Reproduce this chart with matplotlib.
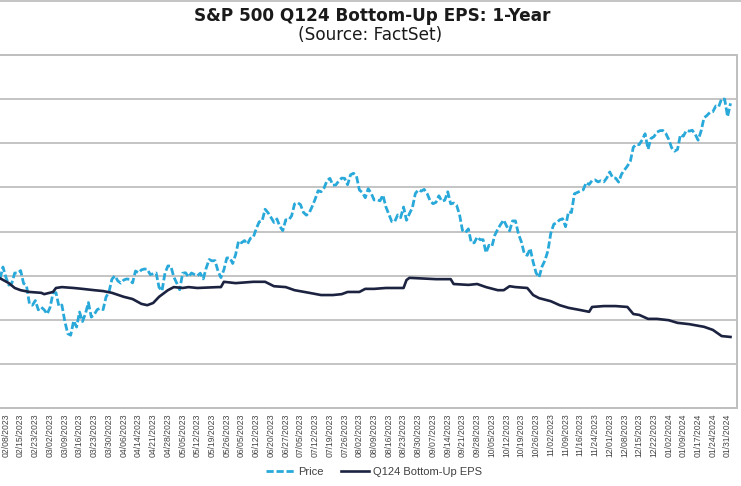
"""
S&P 500 price vs Q124 bottom-up EPS, 1-year view (FactSet style chart)
"""

import numpy as np
import pandas as pd
from matplotlib import pyplot as plt

# Trading calendar 02/06/2023 - 02/01/2024 (NYSE holidays removed)
holidays = ["2023-02-20", "2023-04-07", "2023-05-29", "2023-06-19", "2023-07-04",
            "2023-09-04", "2023-11-23", "2023-12-25", "2024-01-01", "2024-01-15"]
days = pd.bdate_range("2023-02-06", "2024-02-01")
days = days[~days.isin(pd.to_datetime(holidays))]

# S&P 500 daily close (one value per trading day above)
price = [
    # Feb 2023
    4111, 4164, 4118, 4082, 4090, 4137, 4136, 4148, 4090, 4079, 3997, 3991, 4012, 3970, 3982, 3970,
    # Mar
    3951, 3981, 4046, 4048, 3986, 3992, 3918, 3862, 3855, 3920, 3892, 3960, 3917, 3952, 4003, 3937,
    3949, 3971, 3977, 3971, 4028, 4051, 4109,
    # Apr
    4124, 4101, 4091, 4105, 4110, 4108, 4092, 4146, 4138, 4151, 4155, 4154, 4130, 4133, 4137, 4072,
    4056, 4136, 4169,
    # May
    4168, 4119, 4091, 4061, 4136, 4138, 4119, 4137, 4130, 4124, 4136, 4110, 4159, 4198, 4192, 4193,
    4146, 4116, 4151, 4205, 4206, 4180,
    # Jun
    4221, 4282, 4274, 4284, 4268, 4294, 4299, 4338, 4369, 4373, 4426, 4410, 4389, 4366, 4382, 4348,
    4329, 4378, 4377, 4396, 4450,
    # Jul
    4456, 4447, 4412, 4399, 4410, 4439, 4472, 4510, 4505, 4522, 4555, 4566, 4535, 4536, 4554, 4567,
    4566, 4537, 4582, 4589,
    # Aug
    4577, 4513, 4502, 4478, 4519, 4499, 4468, 4469, 4464, 4490, 4437, 4404, 4370, 4370, 4400, 4388,
    4436, 4376, 4406, 4433, 4497, 4514, 4508,
    # Sep
    4516, 4497, 4465, 4451, 4457, 4487, 4462, 4467, 4505, 4450, 4454, 4444, 4402, 4330, 4320, 4337,
    4274, 4274, 4300, 4288,
    # Oct
    4288, 4229, 4263, 4258, 4309, 4336, 4358, 4377, 4349, 4328, 4373, 4373, 4314, 4278, 4224, 4217,
    4248, 4186, 4137, 4117, 4166, 4194,
    # Nov
    4237, 4318, 4358, 4365, 4378, 4383, 4347, 4415, 4411, 4496, 4502, 4508, 4514, 4547, 4538, 4556,
    4559, 4550, 4555, 4550, 4568,
    # Dec
    4595, 4569, 4567, 4549, 4585, 4604, 4622, 4644, 4707, 4720, 4719, 4740, 4768, 4698, 4747, 4755,
    4775, 4782, 4783, 4770,
    # Jan 2024
    4743, 4705, 4689, 4697, 4764, 4757, 4783, 4780, 4784, 4766, 4739, 4780, 4840, 4851, 4865, 4868,
    4894, 4891, 4928, 4925, 4846,
    # Feb
    4906,
]

# Q124 bottom-up EPS, read at selected trading days (day number in the calendar above)
eps_day = [0, 3, 5, 7, 10, 14, 15, 18, 19, 21, 25, 28, 32, 35, 38, 42, 45, 48, 50, 52, 54, 57,
           59, 62, 64, 67, 74, 75, 76, 80, 86, 90, 93, 97, 100, 105, 109, 113, 116, 118, 122,
           124, 127, 131, 137, 138, 139, 148, 153, 154, 159, 162, 165, 169, 171, 173, 175, 179,
           181, 183, 187, 190, 193, 197, 200, 201, 205, 209, 213, 215, 217, 220, 223, 227, 230,
           234, 239, 242, 245, 248]
eps = [54.94, 54.83, 54.72, 54.67, 54.63, 54.61, 54.58, 54.63, 54.72, 54.74, 54.72, 54.70,
       54.67, 54.65, 54.61, 54.52, 54.47, 54.36, 54.33, 54.38, 54.52, 54.67, 54.74, 54.72,
       54.74, 54.72, 54.74, 54.74, 54.86, 54.83, 54.86, 54.86, 54.76, 54.74, 54.67, 54.61,
       54.56, 54.56, 54.58, 54.63, 54.63, 54.70, 54.70, 54.72, 54.72, 54.90, 54.95, 54.92,
       54.92, 54.81, 54.79, 54.81, 54.74, 54.67, 54.67, 54.76, 54.74, 54.72, 54.56, 54.49,
       54.42, 54.33, 54.27, 54.22, 54.18, 54.29, 54.31, 54.31, 54.29, 54.13, 54.11, 54.02,
       54.02, 53.99, 53.93, 53.90, 53.84, 53.77, 53.63, 53.61]

# Weekly tick labels, every 5 trading days from 02/08/2023
tick_idx = np.arange(2, len(days), 5)
tick_labels = [d.strftime("%m/%d/%Y") for d in days[tick_idx]]

price_lim = (3525, 5125)
eps_lim = (52, 60)

plt.rcParams["font.family"] = ["Liberation Sans", "DejaVu Sans"]

fig = plt.figure(figsize=(7.41, 4.86), dpi=100)
ax = fig.add_axes([0.0, 0.1605, 0.9946, 0.7263])
ax2 = ax.twinx()

grid_c = "#BFBFBF"
ax.set_yticks(np.linspace(price_lim[0], price_lim[1], 9))
ax.yaxis.grid(True, color=grid_c, linewidth=1.3)
ax.set_axisbelow(True)
ax.set_ylim(price_lim)
ax2.set_ylim(eps_lim)
ax.set_xlim(0, 250.2)

for a in (ax, ax2):
    a.spines["left"].set_visible(False)
    for s in ("top", "right", "bottom"):
        a.spines[s].set_color(grid_c)
        a.spines[s].set_linewidth(1.3)
    a.tick_params(axis="y", length=0, labelleft=False, labelright=False)

# Plot
l1, = ax.plot(np.arange(len(price)), price, color="#29A9DA", linewidth=2.0,
              dashes=(2.6, 1.0), label="Price")
l2, = ax2.plot(eps_day, eps, color="#1C2340", linewidth=1.9, label="Q124 Bottom-Up EPS")

ax.set_xticks(tick_idx)
ax.set_xticklabels(tick_labels, rotation=90, fontsize=6.2, color="#454545")
ax.tick_params(axis="x", length=0, pad=4)

# Titles
fig.text(0.502, 1 - 16 / 486, "S&P 500 Q124 Bottom-Up EPS: 1-Year", ha="center", va="center",
         fontsize=12.2, fontweight="bold", color="#1A1A1A", family="DejaVu Sans")
fig.text(0.5, 1 - 35.5 / 486, "(Source: FactSet)", ha="center", va="center",
         fontsize=12.2, color="#1A1A1A", family="DejaVu Sans")

fig.legend(handles=[l1, l2], loc="center", bbox_to_anchor=(374 / 741, 1 - 472 / 486), ncol=2,
           frameon=False, fontsize=8, handlelength=2.6, handletextpad=0.3, columnspacing=1.5,
           labelcolor="#404040")

fig.add_artist(plt.Line2D([0, 1], [0.998, 0.998], color=grid_c, linewidth=1.3))

plt.savefig("out.png", dpi=100)
